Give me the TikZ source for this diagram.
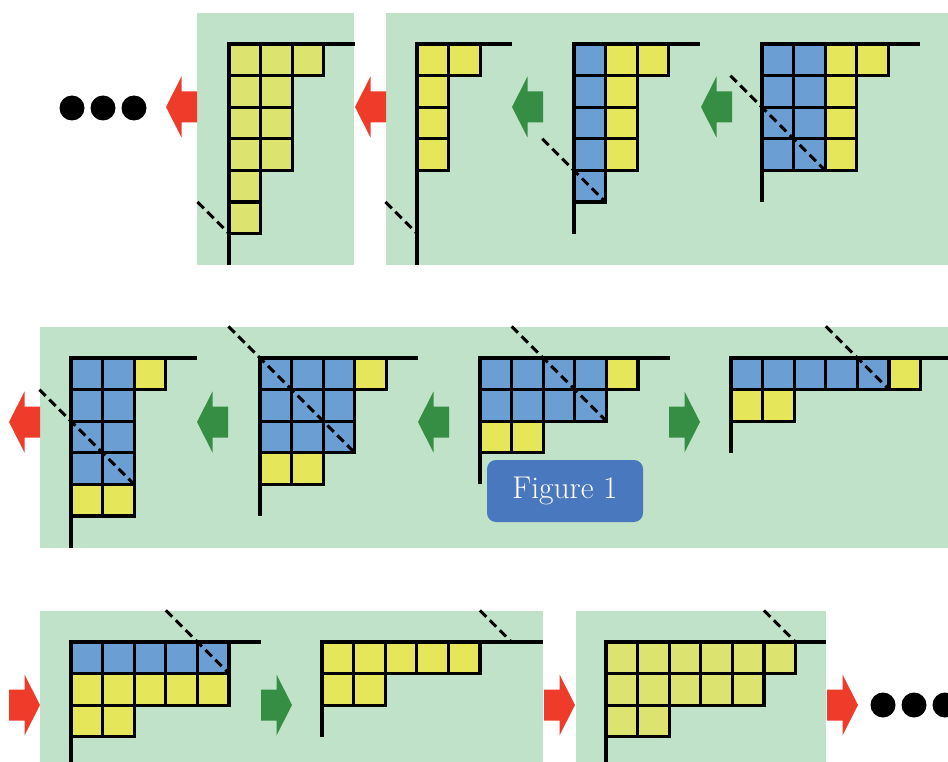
\documentclass[tikz,border=0pt]{standalone}
\usepackage{tikz}
\definecolor{panelg}{HTML}{C0E2C8}
\definecolor{bl}{HTML}{6B9FD3}
\definecolor{yb}{HTML}{E6E65A}
\definecolor{yl}{HTML}{DCE36F}
\definecolor{redA}{HTML}{EF3B2A}
\definecolor{grnA}{HTML}{358E44}
\definecolor{figb}{HTML}{4A78BE}
\newcommand\cellsz{31.6}
\newcommand\rowcells[2]{%
  \foreach \col [count=\i from 0] in {#2}
    \draw[cell,fill=\col] ({\i*\cellsz},{#1*\cellsz}) rectangle ++(\cellsz,\cellsz);}
\tikzset{
  cell/.style={line width=3.2pt,line join=miter},
  axis/.style={line width=3.2pt,line join=miter},
  cut/.style={line width=3pt,dash pattern=on 9pt off 5pt},
  panel/.style={fill=panelg},
  larrow/.pic={\path[pic actions] (0,0) -- (15.5,-30.5) -- (15.5,-15.5) -- (31,-15.5) -- (31,15.5) -- (15.5,15.5) -- (15.5,30.5) -- cycle;},
  rarrow/.pic={\path[pic actions] (0,0) -- (-15.5,-30.5) -- (-15.5,-15.5) -- (-31,-15.5) -- (-31,15.5) -- (-15.5,15.5) -- (-15.5,30.5) -- cycle;},
  dot/.style={fill=black},
  figbox/.style={fill=figb,rounded corners=9pt,minimum width=156pt,minimum height=62pt,text=white,font=\fontsize{31.5}{36}\selectfont,inner sep=0pt}
}
\begin{document}
\begin{tikzpicture}[x=1pt,y=-1pt]
\useasboundingbox (0,0) rectangle (948,762);
% panels
\fill[panel] (197,13) rectangle (354,265);
\fill[panel] (386,13) rectangle (948,265);
\fill[panel] (40,327) rectangle (948,548);
\fill[panel] (40,611) rectangle (543,762);
\fill[panel] (576,611) rectangle (826,762);

% A1
\begin{scope}[shift={(229,44)}]
  \rowcells{0}{yl,yl,yl}
  \rowcells{1}{yl,yl}
  \rowcells{2}{yl,yl}
  \rowcells{3}{yl,yl}
  \rowcells{4}{yl}
  \rowcells{5}{yl}
  \draw[axis] (0,{7*\cellsz}) -- (0,0) -- ({4*\cellsz},0);
  \draw[cut] ({-1*\cellsz},{5*\cellsz}) -- (0,{6*\cellsz});
\end{scope}
% B1
\begin{scope}[shift={(417,44)}]
  \rowcells{0}{yb,yb}
  \rowcells{1}{yb}
  \rowcells{2}{yb}
  \rowcells{3}{yb}
  \draw[axis] (0,{7*\cellsz}) -- (0,0) -- ({3*\cellsz},0);
  \draw[cut] ({-1*\cellsz},{5*\cellsz}) -- (0,{6*\cellsz});
\end{scope}
% B2
\begin{scope}[shift={(574,44)}]
  \rowcells{0}{bl,yb,yb}
  \rowcells{1}{bl,yb}
  \rowcells{2}{bl,yb}
  \rowcells{3}{bl,yb}
  \rowcells{4}{bl}
  \draw[axis] (0,{6*\cellsz}) -- (0,0) -- ({4*\cellsz},0);
  \draw[cut] ({-1*\cellsz},{3*\cellsz}) -- ({1*\cellsz},{5*\cellsz});
\end{scope}
% B3
\begin{scope}[shift={(762,44)}]
  \rowcells{0}{bl,bl,yb,yb}
  \rowcells{1}{bl,bl,yb}
  \rowcells{2}{bl,bl,yb}
  \rowcells{3}{bl,bl,yb}
  \draw[axis] (0,{5*\cellsz}) -- (0,0) -- ({5*\cellsz},0);
  \draw[cut] ({-1*\cellsz},{1*\cellsz}) -- ({2*\cellsz},{4*\cellsz});
\end{scope}
% C1
\begin{scope}[shift={(71,358)}]
  \rowcells{0}{bl,bl,yb}
  \rowcells{1}{bl,bl}
  \rowcells{2}{bl,bl}
  \rowcells{3}{bl,bl}
  \rowcells{4}{yb,yb}
  \draw[axis] (0,190) -- (0,0) -- ({4*\cellsz},0);
  \draw[cut] ({-1*\cellsz},{1*\cellsz}) -- ({2*\cellsz},{4*\cellsz});
\end{scope}
% C2
\begin{scope}[shift={(260,358)}]
  \rowcells{0}{bl,bl,bl,yb}
  \rowcells{1}{bl,bl,bl}
  \rowcells{2}{bl,bl,bl}
  \rowcells{3}{yb,yb}
  \draw[axis] (0,{5*\cellsz}) -- (0,0) -- ({5*\cellsz},0);
  \draw[cut] ({-1*\cellsz},{-1*\cellsz}) -- ({3*\cellsz},{3*\cellsz});
\end{scope}
% C3
\begin{scope}[shift={(480,358)}]
  \rowcells{0}{bl,bl,bl,bl,yb}
  \rowcells{1}{bl,bl,bl,bl}
  \rowcells{2}{yb,yb}
  \draw[axis] (0,{4*\cellsz}) -- (0,0) -- ({6*\cellsz},0);
  \draw[cut] ({1*\cellsz},{-1*\cellsz}) -- ({4*\cellsz},{2*\cellsz});
\end{scope}
% C4
\begin{scope}[shift={(731,358)}]
  \rowcells{0}{bl,bl,bl,bl,bl,yb}
  \rowcells{1}{yb,yb}
  \draw[axis] (0,{3*\cellsz}) -- (0,0) -- (217,0);
  \draw[cut] ({3*\cellsz},{-1*\cellsz}) -- ({5*\cellsz},{1*\cellsz});
\end{scope}
% D1
\begin{scope}[shift={(71,642)}]
  \rowcells{0}{bl,bl,bl,bl,bl}
  \rowcells{1}{yb,yb,yb,yb,yb}
  \rowcells{2}{yb,yb}
  \draw[axis] (0,120) -- (0,0) -- ({6*\cellsz},0);
  \draw[cut] ({3*\cellsz},{-1*\cellsz}) -- ({5*\cellsz},{1*\cellsz});
\end{scope}
% D2
\begin{scope}[shift={(322,642)}]
  \rowcells{0}{yb,yb,yb,yb,yb}
  \rowcells{1}{yb,yb}
  \draw[axis] (0,{3*\cellsz}) -- (0,0) -- (221,0);
  \draw[cut] ({5*\cellsz},{-1*\cellsz}) -- ({6*\cellsz},0);
\end{scope}
% E1
\begin{scope}[shift={(606,642)}]
  \rowcells{0}{yl,yl,yl,yl,yl,yl}
  \rowcells{1}{yl,yl,yl,yl,yl}
  \rowcells{2}{yl,yl}
  \draw[axis] (0,120) -- (0,0) -- (220,0);
  \draw[cut] ({5*\cellsz},{-1*\cellsz}) -- ({6*\cellsz},0);
\end{scope}

% arrows row 1
\pic[fill=redA] (r1) at (166,107) {larrow};
\pic[fill=redA] (r2) at (355,107) {larrow};
\pic[fill=grnA] (g1) at (512,107) {larrow};
\pic[fill=grnA] (g2) at (701,107) {larrow};
% arrows row 2
\pic[fill=redA] (r3) at (9,422) {larrow};
\pic[fill=grnA] (g3) at (197,422) {larrow};
\pic[fill=grnA] (g4) at (418,422) {larrow};
\pic[fill=grnA] (g5) at (700,422) {rarrow};
% arrows row 3
\pic[fill=redA] (r4) at (40,705) {rarrow};
\pic[fill=grnA] (g6) at (292,705) {rarrow};
\pic[fill=redA] (r5) at (575,705) {rarrow};
\pic[fill=redA] (r6) at (858,705) {rarrow};

% dots
\foreach \dx in {72,103,134} \fill[dot] (\dx,108) circle (12.5);
\foreach \dx in {883,914,945} \fill[dot] (\dx,705) circle (12.5);

% label
\node[figbox] (fig) at (565,491) {Figure 1};
\end{tikzpicture}
\end{document}
